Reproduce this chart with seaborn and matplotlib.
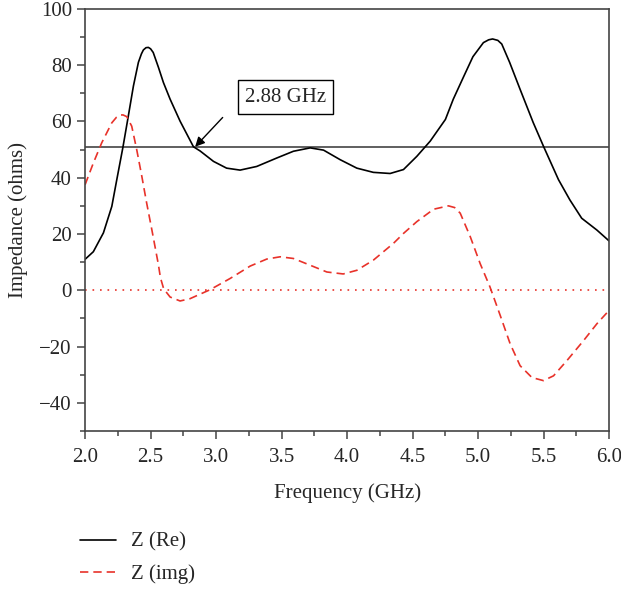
import numpy as np
import pandas as pd
import matplotlib
matplotlib.use("Agg")
import matplotlib.pyplot as plt
import seaborn as sns

freq_re = [2.0, 2.063, 2.14, 2.204, 2.242, 2.288, 2.33, 2.369, 2.407, 2.43, 2.445, 2.465,
           2.483, 2.50, 2.52, 2.56, 2.598, 2.649, 2.725, 2.827, 2.878, 2.98, 3.08, 3.183,
           3.31, 3.463, 3.59, 3.718, 3.82, 3.947, 4.074, 4.2, 4.328, 4.43, 4.532, 4.634,
           4.75, 4.81, 4.89, 4.96, 5.04, 5.08, 5.11, 5.15, 5.18, 5.24, 5.32, 5.42, 5.5,
           5.613, 5.70, 5.79, 5.906, 6.0]
z_re = [11.0, 13.7, 20.4, 29.8, 39.3, 50.6, 61.9, 72.6, 81.0, 84.0, 85.4, 86.2,
        86.3, 85.8, 84.5, 79.2, 73.8, 67.9, 60.1, 51.0, 49.5, 45.8, 43.4, 42.7,
        44.0, 47.0, 49.4, 50.6, 49.8, 46.4, 43.4, 41.9, 41.5, 42.9, 47.6, 53.0,
        60.7, 67.9, 76.0, 83.0, 88.0, 89.0, 89.3, 88.8, 87.5, 81.0, 71.4, 59.6, 51.0,
        39.3, 32.1, 25.6, 21.4, 17.5]

freq_im = [2.0, 2.063, 2.127, 2.204, 2.24, 2.267, 2.29, 2.318, 2.356, 2.394, 2.433, 2.47,
           2.51, 2.56, 2.575, 2.6, 2.649, 2.725, 2.8, 2.954, 3.107, 3.26, 3.387, 3.489,
           3.59, 3.718, 3.845, 3.97, 4.074, 4.2, 4.354, 4.43, 4.532, 4.66, 4.773, 4.82,
           4.863, 4.94, 5.015, 5.09, 5.168, 5.244, 5.32, 5.41, 5.498, 5.575, 5.677, 5.804,
           5.906, 6.0]
z_im = [37.5, 45.2, 52.4, 59.5, 61.5, 62.3, 62.3, 61.7, 58.3, 50.0, 40.5, 31.0,
        21.4, 9.0, 4.5, 0.5, -2.4, -3.8, -3.0, 0.2, 4.2, 8.6, 11.1, 11.9,
        11.3, 8.9, 6.5, 5.8, 7.1, 10.7, 16.7, 20.2, 24.4, 28.8, 30.0, 29.4,
        27.4, 19.0, 9.5, 1.2, -8.9, -19.0, -26.8, -31.0, -32.1, -30.4, -25.0, -17.9,
        -11.9, -7.1]

ref_level = 51
marker_label = "2.88 GHz"
marker_freq = 2.84

x_ticks = [2.0, 2.5, 3.0, 3.5, 4.0, 4.5, 5.0, 5.5, 6.0]
y_ticks = [-40, -20, 0, 20, 40, 60, 80, 100]

sns.set_theme(style="white")
plt.rcParams['font.family'] = ['Liberation Serif', 'DejaVu Serif']

df_re = pd.DataFrame({"f": freq_re, "z": z_re})
df_im = pd.DataFrame({"f": freq_im, "z": z_im})

red = "#e8322a"
fs = 15

fig = plt.figure(figsize=(6.21, 5.90), dpi=100)
ax = fig.add_axes([0.137, 0.2695, 0.844, 0.7155])

sns.lineplot(data=df_re, x="f", y="z", ax=ax, color="black", lw=1.2, label="Z (Re)")
sns.lineplot(data=df_im, x="f", y="z", ax=ax, color=red, lw=1.2, label="Z (img)",
             linestyle=(0, (5, 3)))
ax.axhline(ref_level, color="#444444", lw=1.2, zorder=1)
ax.axhline(0, color=red, lw=1.2, linestyle=(0, (1, 3.5)), zorder=1)

ax.text(3.53, 68.6, marker_label, ha="center", va="center", fontsize=fs,
        bbox=dict(boxstyle="square,pad=0.35", fc="white", ec="black", lw=1.0))
ax.annotate("", xy=(marker_freq, ref_level), xytext=(3.05, 61.4),
            arrowprops=dict(arrowstyle="-|>", color="black", lw=1.0,
                            shrinkA=0, shrinkB=0, mutation_scale=14))

ax.set_xlim(2.0, 6.0)
ax.set_ylim(-50, 100)
ax.set_xticks(x_ticks)
ax.set_xticklabels([f"{v:.1f}" for v in x_ticks])
ax.set_yticks(y_ticks)
ax.set_yticklabels([f"{v}".replace("-", "\u2212") for v in y_ticks])
ax.set_xticks(np.arange(2.0, 6.01, 0.25), minor=True)
ax.set_yticks(np.arange(-50, 101, 10), minor=True)
ax.tick_params(axis="x", which="major", pad=6)
ax.tick_params(axis="both", which="major", direction="out", length=6, width=1.1,
               color="#444444", labelsize=fs, bottom=True, left=True)
ax.tick_params(axis="both", which="minor", direction="out", length=3.5, width=1.1,
               color="#444444", bottom=True, left=True)
for s in ax.spines.values():
    s.set_color("#444444")
    s.set_linewidth(1.2)

ax.set_xlabel("Frequency (GHz)", fontsize=fs, labelpad=12)
ax.set_ylabel("Impedance (ohms)", fontsize=fs, labelpad=8)

handles, labels = ax.get_legend_handles_labels()
ax.legend_.remove()
fig.legend(handles, labels, loc="upper left", bbox_to_anchor=(0.116, 0.112),
           frameon=False, fontsize=fs, handlelength=1.7, labelspacing=0.6,
           handletextpad=0.75, borderaxespad=0)

fig.savefig("out.png", dpi=100)
